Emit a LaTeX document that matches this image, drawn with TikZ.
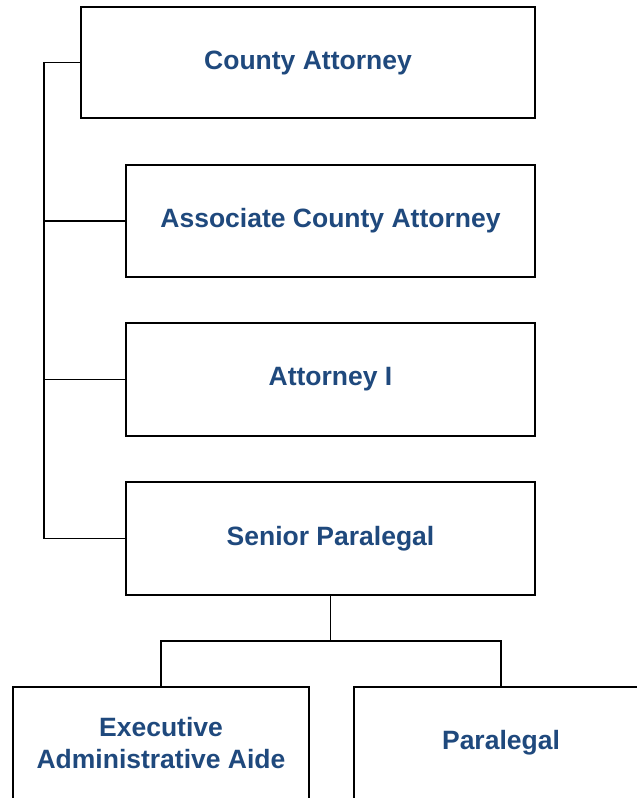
\documentclass[tikz,border=0pt]{standalone}
\usepackage{fontspec}
\setmainfont{Liberation Sans}
\usepackage{tikz}

\definecolor{titleblue}{RGB}{31,73,125}

\tikzset{
    post/.style={draw, line width=1.8pt, align=center, text=titleblue,
        font=\fontsize{26.5}{32}\selectfont\bfseries, inner sep=0pt},
    link/.style={line width=1.8pt}
}

\begin{document}
\begin{tikzpicture}[x=1pt,y=-1pt]
    \clip (0,0) rectangle (637,798);
    \useasboundingbox (0,0) rectangle (637,798);

    \node[post, minimum width=454pt, minimum height=111pt] (ca) at (308,62.5) {County Attorney};
    \node[post, minimum width=409pt, minimum height=112pt] (aca) at (330.5,221) {Associate County Attorney};
    \node[post, minimum width=409pt, minimum height=113pt] (att) at (330.5,379.5) {Attorney I};
    \node[post, minimum width=409pt, minimum height=113pt] (sp) at (330.5,538.5) {Senior Paralegal};

    \node[post, minimum width=296pt, minimum height=112pt] (ead) at (161,743) {Executive\\Administrative Aide};
    \node[post, minimum width=294pt, minimum height=112pt] (para) at (501,743) {Paralegal};

    \coordinate (spine) at (44,0);
    \coordinate (fork) at (330.5,641);

    \draw[link] (ca.west) -- (ca.west -| spine) -- (sp.west -| spine) -- (sp.west);
    \draw[link] (aca.west) -- (aca.west -| spine);
    \draw[link] (att.west) -- (att.west -| spine);

    \draw[link] (sp.south) -- (fork);
    \draw[link] (ead.north) |- (fork) -| (para.north);
\end{tikzpicture}
\end{document}
